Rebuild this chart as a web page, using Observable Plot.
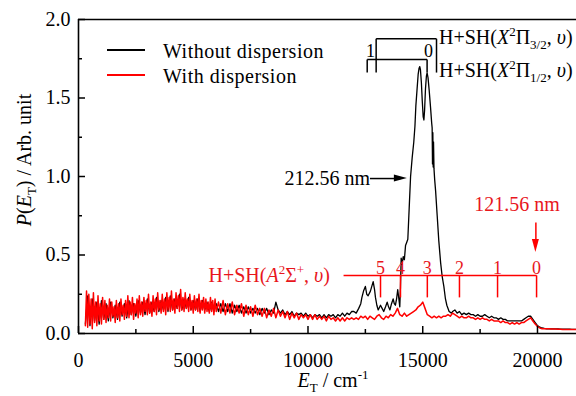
<!DOCTYPE html>
<html>
<head>
<meta charset="utf-8">
<script src="https://cdn.jsdelivr.net/npm/d3@7"></script>
<script src="https://cdn.jsdelivr.net/npm/@observablehq/plot@0.6"></script>
<style>
html,body{margin:0;padding:0;background:#fff;}
#chart{width:576px;height:396px;overflow:hidden;}
svg text{font-family:"Liberation Serif","Times New Roman",serif !important;}
</style>
</head>
<body>
<div id="chart"></div>
<script>
// ---------------- data ----------------
const seriesNames = ["Without dispersion", "With dispersion"];
const xMajor = [0, 5000, 10000, 15000, 20000];
const xMinor = [2500, 7500, 12500, 17500];
const yMajor = [0, 0.5, 1.0, 1.5, 2.0];
const yMinor = [0.25, 0.75, 1.25, 1.75];

// "With dispersion" (red)
const redA_E = d3.range(300, 6001, 50);
const redA_P = [
  .05,.27,.04,.25,.06,.22,.03,.26,.07,.20,
  .05,.24,.08,.19,.06,.23,.09,.21,.07,.18,
  .10,.22,.08,.20,.11,.17,.07,.21,.10,.19,
  .08,.22,.12,.18,.09,.21,.11,.24,.10,.20,
  .12,.23,.09,.19,.13,.22,.10,.24,.12,.20,
  .11,.23,.14,.21,.12,.25,.13,.20,.11,.24,
  .14,.22,.12,.26,.15,.21,.13,.25,.14,.22,
  .12,.26,.15,.23,.14,.27,.15,.22,.13,.26,
  .16,.24,.14,.28,.15,.23,.14,.26,.16,.22,
  .14,.25,.15,.21,.13,.24,.15,.22,.14,.25,
  .13,.21,.15,.23,.13,.22,.14,.20,.13,.23,
  .14,.21,.12,.22,.14];
const redB_E = d3.range(6100, 12001, 100);
const redB_P = [
  .20,.13,.21,.12,.19,.13,.20,.12,.18,.13,
  .19,.11,.18,.12,.17,.11,.18,.12,.16,.11,
  .16,.10,.15,.11,.16,.10,.15,.11,.14,.10,
  .14,.09,.13,.10,.13,.09,.12,.10,.12,.09,
  .12,.09,.12,.09,.11,.09,.11,.08,.11,.09,
  .10,.08,.10,.08,.10,.08,.10,.09,.10,.09];
const redC_E = d3.range(12100, 21701, 100);
const redC_P = [
  .10,.09,.11,.10,.11,.09,.11,.10,.09,.11,
  .12,.10,.09,.11,.10,.12,.11,.13,.16,.12,
  .11,.13,.11,.12,.13,.14,.15,.17,.18,.20,
  .16,.12,.11,.10,.11,.10,.11,.10,.11,.11,
  .12,.11,.13,.12,.11,.10,.11,.10,.10,.11,
  .10,.10,.09,.10,.09,.10,.09,.09,.08,.09,
  .08,.08,.08,.07,.08,.07,.07,.06,.07,.06,
  .07,.06,.07,.07,.08,.09,.10,.08,.06,.045,
  .035,.03,.03,.03,.03,.028,.028,.028,.027,.027,
  .026,.026,.025,.025,.025,.025,.025];

// "Without dispersion" (black)
const blackA_E = d3.range(300, 8001, 100);
const blackA_P = [
  .06,.24,.05,.22,.08,.20,.06,.21,.09,.19,
  .08,.20,.10,.18,.09,.20,.11,.19,.10,.21,
  .12,.19,.11,.21,.13,.20,.12,.22,.13,.20,
  .14,.23,.14,.21,.15,.23,.14,.24,.15,.22,
  .16,.25,.15,.22,.16,.23,.15,.21,.15,.22,
  .14,.21,.15,.20,.14,.20,.14,.19,.14,.19,
  .14,.19,.14,.19,.13,.18,.14,.18,.13,.17,
  .13,.17,.13,.16,.13,.16,.12,.16];
const blackB_E = d3.range(8100, 11901, 100);
const blackB_P = [
  .13,.16,.12,.15,.13,.20,.15,.13,.15,.12,
  .14,.12,.14,.11,.13,.12,.13,.11,.13,.11,
  .12,.10,.12,.11,.12,.10,.12,.10,.12,.11,
  .12,.10,.12,.11,.13,.11,.13,.12,.14];
const blackC_E = [12000,12100,12210,12300,12350,12420,12500,12560,12620,12720,
  12840,12900,12940,13000,13060,13160,13230,13300,13380,13450,
  13510,13570,13640,13710,13760,13810,13860,13910,13960,14000,
  14030,14060,14100,14150,14200,14250,14300,14350,14410,14470,
  14540,14610,14660,14700,14750,14800,14840,14870,14900,14940,
  14980,15020,15050,15080,15120,15160,15190,15230,15280,15340,
  15390,15410,15425,15440,15455,15470,15490,15520,15560,15630,
  15700,15780,15850,15920,15990,16050,16150,16250];
const blackC_P = [.14,.13,.16,.19,.23,.27,.30,.25,.24,.27,
  .33,.28,.23,.18,.15,.18,.16,.14,.17,.20,
  .17,.15,.19,.22,.19,.18,.22,.28,.22,.17,
  .30,.48,.44,.49,.47,.56,.58,.60,.80,1.00,
  1.12,1.22,1.32,1.45,1.55,1.65,1.69,1.70,1.68,1.60,
  1.48,1.38,1.36,1.42,1.56,1.64,1.66,1.63,1.55,1.44,
  1.34,1.31,1.08,1.28,1.06,1.22,1.05,0.98,0.91,0.75,
  0.59,0.45,0.36,0.30,0.22,0.18,0.14,0.13];
const blackD_E = d3.range(16300, 21701, 100);
const blackD_P = [
  .14,.15,.13,.14,.12,.13,.12,.13,.12,.12,
  .11,.12,.11,.11,.12,.11,.10,.11,.10,.10,
  .09,.10,.09,.09,.08,.08,.08,.08,.08,.08,
  .08,.09,.10,.11,.11,.09,.07,.05,.04,.035,
  .032,.03,.03,.03,.03,.029,.029,.028,.028,.027,
  .027,.027,.026,.026,.026];

// annotations (data coordinates)
const pi32E = [12970, 15600], pi32Y = 1.877;
const pi12E = [12580, 15190], pi12Y = 1.745;
const xBracketFoot = 1.662;
const xBracketLabels = ["1", "0"], xBracketLabelE = [12723, 15250], xBracketLabelY = 1.80;
const aStateE = [13160, 14030, 15200, 16600, 18260, 19960];
const aStateLabels = ["5", "4", "3", "2", "1", "0"];
const aStateStartE = 11550, aStateY = 0.37, aStateFoot = 0.23, aStateLabelY = 0.414;
const nm212 = {label: "212.56 nm", e1: 12700, e2: 14330, p: 0.987};
const nm121 = {label: "121.56 nm", e: 19930, p1: 0.707, p2: 0.516, labelE: 19107, labelP: 0.82};
const textPi32 = {e: 15730, p: 1.885};
const textPi12 = {e: 15730, p: 1.675};
const textA = {e: 10980, p: 0.369};

// ---------------- build ----------------
const pairs = (E, P) => E.map((e, i) => ({e, p: P[i]}));
const red = [...pairs(redA_E, redA_P), ...pairs(redB_E, redB_P), ...pairs(redC_E, redC_P)];
const black = [...pairs(blackA_E, blackA_P), ...pairs(blackB_E, blackB_P), ...pairs(blackC_E, blackC_P), ...pairs(blackD_E, blackD_P)];

const blackSegs = [
  {x1: pi32E[0], y1: pi32Y, x2: pi32E[1], y2: pi32Y},
  {x1: pi32E[0], y1: pi32Y, x2: pi32E[0], y2: xBracketFoot},
  {x1: pi32E[1], y1: pi32Y, x2: pi32E[1], y2: xBracketFoot},
  {x1: pi12E[0], y1: pi12Y, x2: pi12E[1], y2: pi12Y},
  {x1: pi12E[0], y1: pi12Y, x2: pi12E[0], y2: xBracketFoot},
  {x1: pi12E[1], y1: pi12Y, x2: pi12E[1], y2: xBracketFoot},
  {x1: nm212.e1, y1: nm212.p, x2: nm212.e2 - 300, y2: nm212.p}
];
const redSegs = [
  {x1: aStateStartE, y1: aStateY, x2: aStateE[aStateE.length - 1], y2: aStateY},
  ...aStateE.map(e => ({x1: e, y1: aStateY, x2: e, y2: aStateFoot})),
  {x1: nm121.e, y1: nm121.p1, x2: nm121.e, y2: nm121.p2 + 0.05}
];

const W = 576, H = 396, mL = 78, mT = 19, mB = 63, mR = 0;
const fw = W - mL - mR, fh = H - mT - mB;
const RED = "#ff0000", RED_TXT = "#e8161c";
const FONT = "'Liberation Serif', 'Times New Roman', serif";

const plot = Plot.plot({
  width: W, height: H,
  marginLeft: mL, marginTop: mT, marginBottom: mB, marginRight: mR,
  x: {domain: [0, 21700], label: null},
  y: {domain: [0, 2], label: null},
  style: {fontFamily: FONT, fontSize: "20px", background: "white", color: "black"},
  marks: [
    Plot.line(black, {x: "e", y: "p", stroke: "black", strokeWidth: 1.3}),
    Plot.line(red, {x: "e", y: "p", stroke: RED, strokeWidth: 1.5}),
    // frame
    Plot.ruleX([0], {stroke: "black", strokeWidth: 1.6}),
    Plot.ruleY([0, 2], {stroke: "black", strokeWidth: 1.6}),
    // inward ticks
    Plot.ruleX(xMajor, {stroke: "black", strokeWidth: 1.5, insetTop: fh - 7}),
    Plot.ruleX(xMinor, {stroke: "black", strokeWidth: 1.5, insetTop: fh - 4}),
    Plot.ruleY(yMajor, {stroke: "black", strokeWidth: 1.5, insetRight: fw - 7}),
    Plot.ruleY(yMinor, {stroke: "black", strokeWidth: 1.5, insetRight: fw - 4}),
    Plot.axisX({ticks: xMajor, tickSize: 0, tickPadding: 19, tickFormat: d3.format("d"), label: null, fontSize: 20}),
    Plot.axisY({ticks: yMajor, tickSize: 0, tickPadding: 8, tickFormat: d3.format(".1f"), label: null, fontSize: 20}),
    // annotations
    Plot.link(blackSegs, {x1: "x1", y1: "y1", x2: "x2", y2: "y2", stroke: "black", strokeWidth: 1.5}),
    Plot.link(redSegs, {x1: "x1", y1: "y1", x2: "x2", y2: "y2", stroke: RED, strokeWidth: 1.5}),
    Plot.text(xBracketLabels, {x: xBracketLabelE, y: xBracketLabelE.map(() => xBracketLabelY), text: d => d, fontSize: 18, fill: "black"}),
    Plot.text(aStateLabels, {x: aStateE, y: aStateE.map(() => aStateLabelY), text: d => d, fontSize: 18, fill: RED_TXT}),
    Plot.text([nm212.label], {x: [nm212.e1], y: [nm212.p], text: d => d, textAnchor: "end", fontSize: 20, fill: "black"}),
    Plot.text([nm121.label], {x: [nm121.labelE], y: [nm121.labelP], text: d => d, fontSize: 20, fill: RED_TXT})
  ]
});
document.getElementById("chart").appendChild(plot);

// ---------------- rich text, arrowheads, legend ----------------
const svg = d3.select(plot);
const xs = plot.scale("x"), ys = plot.scale("y");
const X = v => xs.apply(v), Y = v => ys.apply(v);

function rich(x, y, parts, {anchor = "start", fill = "black", size = 20, rotate = null} = {}) {
  const t = svg.append("text").attr("x", x).attr("y", y).attr("dy", "0.35em")
    .attr("text-anchor", anchor).attr("fill", fill).attr("font-size", size)
    .attr("font-family", FONT);
  if (rotate != null) t.attr("transform", `rotate(${rotate},${x},${y})`);
  let shift = 0;
  for (const [s, k] of parts) {
    const ts = t.append("tspan").text(s);
    let target = 0;
    if (k === "sup") { target = -8; ts.attr("font-size", size * 0.65); }
    else if (k === "sub") { target = 5; ts.attr("font-size", size * 0.65); }
    else if (k === "i") ts.attr("font-style", "italic");
    if (target !== shift) { ts.attr("dy", target - shift); shift = target; }
  }
  return t;
}

rich(X(textPi32.e), Y(textPi32.p), [["H+SH(", "n"], ["X", "i"], ["2", "sup"], ["Π", "n"], ["3/2", "sub"], [", ", "n"], ["υ", "i"], [")", "n"]]);
rich(X(textPi12.e), Y(textPi12.p), [["H+SH(", "n"], ["X", "i"], ["2", "sup"], ["Π", "n"], ["1/2", "sub"], [", ", "n"], ["υ", "i"], [")", "n"]]);
rich(X(textA.e), Y(textA.p), [["H+SH(", "n"], ["A", "i"], ["2", "sup"], ["Σ", "n"], ["+", "sup"], [", ", "n"], ["υ", "i"], [")", "n"]], {anchor: "end", fill: RED_TXT});

// arrowheads
{
  const tx = X(nm212.e2), ty = Y(nm212.p);
  svg.append("path").attr("d", `M${tx},${ty}L${tx - 13},${ty - 3.5}L${tx - 13},${ty + 3.5}Z`).attr("fill", "black");
  const rx = X(nm121.e), ry = Y(nm121.p2);
  svg.append("path").attr("d", `M${rx},${ry}L${rx - 3.5},${ry - 13}L${rx + 3.5},${ry - 13}Z`).attr("fill", RED);
}

// axis titles
rich(24, 160, [["P", "i"], ["(", "n"], ["E", "i"], ["T", "sub"], [") / Arb. unit", "n"]], {anchor: "middle", rotate: -90});
rich(333, 380, [["E", "i"], ["T", "sub"], [" / cm", "n"], ["-1", "sup"]], {anchor: "middle"});

// legend
const legendColors = ["black", RED];
seriesNames.forEach((name, i) => {
  const ly = 50 + i * 25;
  svg.append("line").attr("x1", 107).attr("x2", 145).attr("y1", ly).attr("y2", ly)
    .attr("stroke", legendColors[i]).attr("stroke-width", 1.8);
  svg.append("text").attr("x", 163).attr("y", ly + 1).attr("dy", "0.35em")
    .attr("text-anchor", "start")
    .attr("font-family", FONT).attr("font-size", 20).attr("letter-spacing", 0.5)
    .attr("fill", "black").text(name);
});
</script>
</body>
</html>
